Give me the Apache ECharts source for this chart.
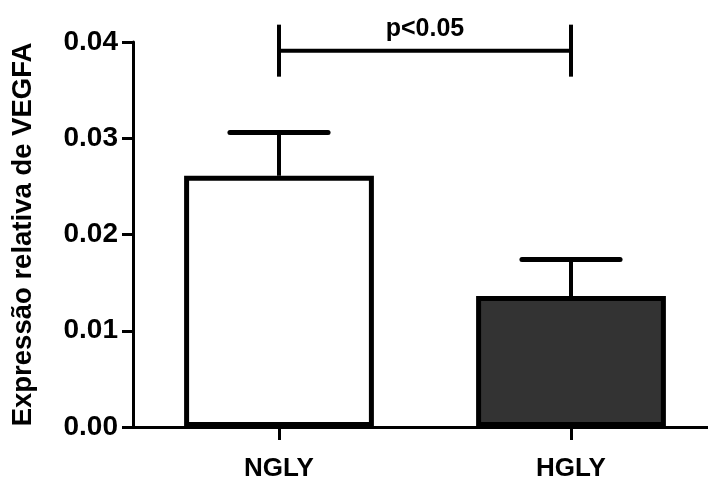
<!DOCTYPE html>
<html>
<head>
<meta charset="utf-8">
<script src="https://cdn.jsdelivr.net/npm/echarts@6/dist/echarts.min.js"></script>
<style>
html,body{margin:0;padding:0;background:#fff;}
#chart{width:708px;height:483px;}
</style>
</head>
<body>
<div id="chart"></div>
<script>
const categories = ['NGLY', 'HGLY'];
const means = [0.0261, 0.0136];
const upperErr = [0.0306, 0.0174];
const barColors = ['#ffffff', '#333333'];
const yTicks = [0, 0.01, 0.02, 0.03, 0.04];
const yTitle = 'Expressão relativa de VEGFA';
const sigLabel = 'p<0.05';
const sigY = 0.0391;

const FONT = '"Liberation Sans", Arial, sans-serif';
const chart = echarts.init(document.getElementById('chart'), null, {renderer: 'canvas'});

const option = {
  backgroundColor: '#fff',
  animation: false,
  grid: {left: 133, right: -9, top: 42, bottom: 56, containLabel: false, outerBoundsMode: 'none'},
  xAxis: {
    type: 'category',
    data: categories,
    boundaryGap: true,
    axisLine: {lineStyle: {color: '#000', width: 3}},
    axisTick: {show: true, alignWithLabel: true, length: 13, lineStyle: {color: '#000', width: 3}},
    axisLabel: {color: '#000', fontFamily: FONT, fontWeight: 'bold', fontSize: 26, margin: 29}
  },
  yAxis: {
    type: 'value',
    min: yTicks[0],
    max: yTicks[yTicks.length - 1],
    interval: 0.01,
    name: yTitle,
    nameLocation: 'middle',
    nameGap: 96,
    nameRotate: 90,
    nameTextStyle: {color: '#000', fontFamily: FONT, fontWeight: 'bold', fontSize: 27.5},
    axisLine: {show: true, lineStyle: {color: '#000', width: 3}},
    axisTick: {show: true, length: 11, lineStyle: {color: '#000', width: 3}},
    splitLine: {show: false},
    axisLabel: {
      color: '#000', fontFamily: FONT, fontWeight: 'bold', fontSize: 28, margin: 15,
      formatter: v => v.toFixed(2)
    }
  },
  series: [
    {
      type: 'custom',
      z: 1,
      clip: false,
      data: categories.map((c, i) => [i, means[i], upperErr[i]]),
      renderItem: (params, api) => {
        const x = api.value(0), m = api.value(1), u = api.value(2);
        const p0 = api.coord([x, m]);
        const p1 = api.coord([x, u]);
        const bw = api.size([1, 0])[0];
        const half = bw * 0.168;
        return {
          type: 'group',
          children: [
            {type: 'line', shape: {x1: p0[0], y1: p0[1], x2: p1[0], y2: p1[1]}, style: {stroke: '#000', lineWidth: 4}},
            {type: 'line', shape: {x1: p1[0] - half, y1: p1[1], x2: p1[0] + half, y2: p1[1]}, style: {stroke: '#000', lineWidth: 5, lineCap: 'round'}}
          ]
        };
      }
    },
    {
      type: 'bar',
      z: 2,
      barWidth: '65%',
      data: means.map((v, i) => ({value: v, itemStyle: {color: barColors[i], borderColor: '#000', borderWidth: 5}})),
      itemStyle: {borderJoin: 'miter'}
    },
    {
      type: 'custom',
      z: 3,
      clip: false,
      data: [[0, 1, sigY]],
      renderItem: (params, api) => {
        const a = api.coord([api.value(0), api.value(2)]);
        const b = api.coord([api.value(1), api.value(2)]);
        const tick = 26;
        return {
          type: 'group',
          children: [
            {type: 'line', shape: {x1: a[0], y1: a[1], x2: b[0], y2: b[1]}, style: {stroke: '#000', lineWidth: 4}},
            {type: 'line', shape: {x1: a[0], y1: a[1] - tick, x2: a[0], y2: a[1] + tick}, style: {stroke: '#000', lineWidth: 4}},
            {type: 'line', shape: {x1: b[0], y1: b[1] - tick, x2: b[0], y2: b[1] + tick}, style: {stroke: '#000', lineWidth: 4}},
            {type: 'text', style: {text: sigLabel, x: (a[0] + b[0]) / 2, y: a[1] - 22, align: 'center', verticalAlign: 'middle', fill: '#000', font: 'bold 25px ' + FONT}}
          ]
        };
      }
    }
  ]
};
chart.setOption(option);
</script>
</body>
</html>
